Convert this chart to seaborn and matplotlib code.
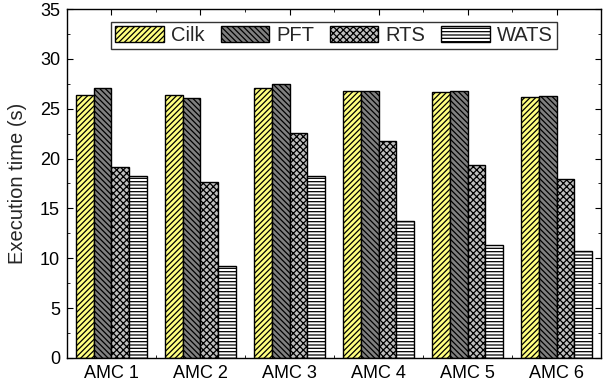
import pandas as pd
import matplotlib
matplotlib.use("Agg")
import matplotlib.pyplot as plt
import seaborn as sns
from matplotlib.ticker import MultipleLocator

groups = ["AMC 1", "AMC 2", "AMC 3", "AMC 4", "AMC 5", "AMC 6"]
cilk = [26.4, 26.4, 27.1, 26.8, 26.7, 26.2]
pft = [27.1, 26.1, 27.5, 26.8, 26.8, 26.3]
rts = [19.2, 17.6, 22.6, 21.8, 19.4, 17.9]
wats = [18.2, 9.2, 18.2, 13.7, 11.3, 10.7]
methods = ["Cilk", "PFT", "RTS", "WATS"]

df = pd.DataFrame({"Cilk": cilk, "PFT": pft, "RTS": rts, "WATS": wats}, index=groups)
df = df.reset_index(names="group").melt(id_vars="group", var_name="method", value_name="time")

sns.set_style("ticks")
plt.rcParams["font.family"] = ["Liberation Sans", "DejaVu Sans"]
plt.rcParams["hatch.linewidth"] = 0.9

fills = ["#ffff80", "#808080", "#c0c0c0", "#ffffff"]
hatches = ["//////", "\\\\\\\\\\\\", "xxxxx", "-----"]

fig = plt.figure(figsize=(6.03, 3.92), dpi=100)
ax = fig.add_axes([0.111, 0.087, 0.886, 0.89])

sns.barplot(data=df, x="group", y="time", hue="method", hue_order=methods,
            order=groups, width=0.8, legend=False, ax=ax, errorbar=None)

for cont, fc, h in zip(ax.containers, fills, hatches):
    for p in cont.patches:
        p.set_facecolor(fc)
        p.set_hatch(h)
        p.set_edgecolor("black")
        p.set_linewidth(1.0)

ax.set_xlim(-0.5, 5.5)
ax.set_ylim(0, 35)
ax.yaxis.set_major_locator(MultipleLocator(5))
ax.yaxis.set_minor_locator(MultipleLocator(2.5))
ax.set_xticks(range(len(groups)))
ax.set_xticks([i + 0.5 for i in range(len(groups) - 1)], minor=True)
ax.tick_params(which="both", direction="in", top=True, right=True, labelsize=13, colors="black", pad=5)
ax.tick_params(which="major", length=4)
ax.tick_params(which="minor", length=2.5)
for s in ax.spines.values():
    s.set_linewidth(1.0)
    s.set_color("black")

ax.set_xlabel("")
ax.set_ylabel("Execution time (s)", fontsize=14.5, labelpad=9)

handles = [c.patches[0] for c in ax.containers]
leg = ax.legend(handles, methods, loc="upper center", bbox_to_anchor=(0.5, 0.963),
                ncol=4, fontsize=14.5, frameon=True, fancybox=False, edgecolor="black",
                handlelength=2.4, handleheight=0.8, handletextpad=0.35, columnspacing=0.8,
                borderpad=0.2, borderaxespad=0.0)
leg.get_frame().set_linewidth(1.0)

fig.savefig("out.png", dpi=100)
